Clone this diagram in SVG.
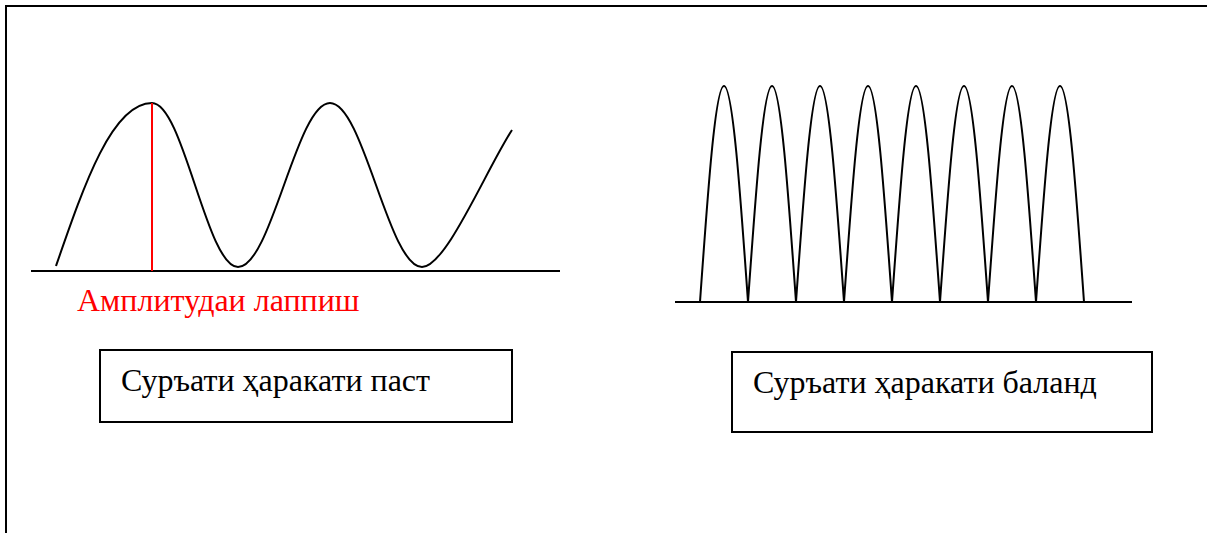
<svg xmlns="http://www.w3.org/2000/svg" width="1207" height="533" viewBox="0 0 1207 533">
<style>
.ln{fill:none;stroke:#000;stroke-width:2}
.box{fill:#fff;stroke:#000;stroke-width:2}
.lbl{font-family:"Liberation Serif","Times New Roman",serif;font-size:32px;fill:#000}
.red{font-family:"Liberation Serif","Times New Roman",serif;font-size:32px;fill:#f00}
</style>
<rect width="1207" height="533" fill="#fff"/>
<g id="frame">
<path class="ln" d="M6,533 V6 H1207" stroke-width="2.5"/>
</g>
<g id="low-wave">
<line class="ln" x1="31" y1="271" x2="560" y2="271"/>
<path class="ln" d="M56,266 C84,185 112,103 152,103 C183.3,103 206.7,267 238,267 C271.4,267 296.6,103 330,103 C363.4,103 388.6,267 422,267 C446,267 486,170 512,130"/>
<line x1="152" y1="103" x2="152" y2="271" stroke="#f00" stroke-width="2"/>
<text class="red" x="77" y="311">Амплитудаи лаппиш</text>
</g>
<g id="high-wave">
<line class="ln" x1="675" y1="302" x2="1132" y2="302"/>
<path class="ln" d="M700,302 c7.83,-110.7 15.31,-216 24,-216 c8.69,0 16.17,105.3 24,216 c7.83,-110.7 15.31,-216 24,-216 c8.69,0 16.17,105.3 24,216 c7.83,-110.7 15.31,-216 24,-216 c8.69,0 16.17,105.3 24,216 c7.83,-110.7 15.31,-216 24,-216 c8.69,0 16.17,105.3 24,216 c7.83,-110.7 15.31,-216 24,-216 c8.69,0 16.17,105.3 24,216 c7.83,-110.7 15.31,-216 24,-216 c8.69,0 16.17,105.3 24,216 c7.83,-110.7 15.31,-216 24,-216 c8.69,0 16.17,105.3 24,216 c7.83,-110.7 15.31,-216 24,-216 c8.69,0 16.17,105.3 24,216"/>
</g>
<g id="box-low">
<rect class="box" x="100" y="350" width="412" height="72"/>
<text class="lbl" x="121" y="391">Суръати ҳаракати паст</text>
</g>
<g id="box-high">
<rect class="box" x="732" y="352" width="420" height="80"/>
<text class="lbl" x="753" y="393">Суръати ҳаракати баланд</text>
</g>
<g id="connectors"/>
</svg>
